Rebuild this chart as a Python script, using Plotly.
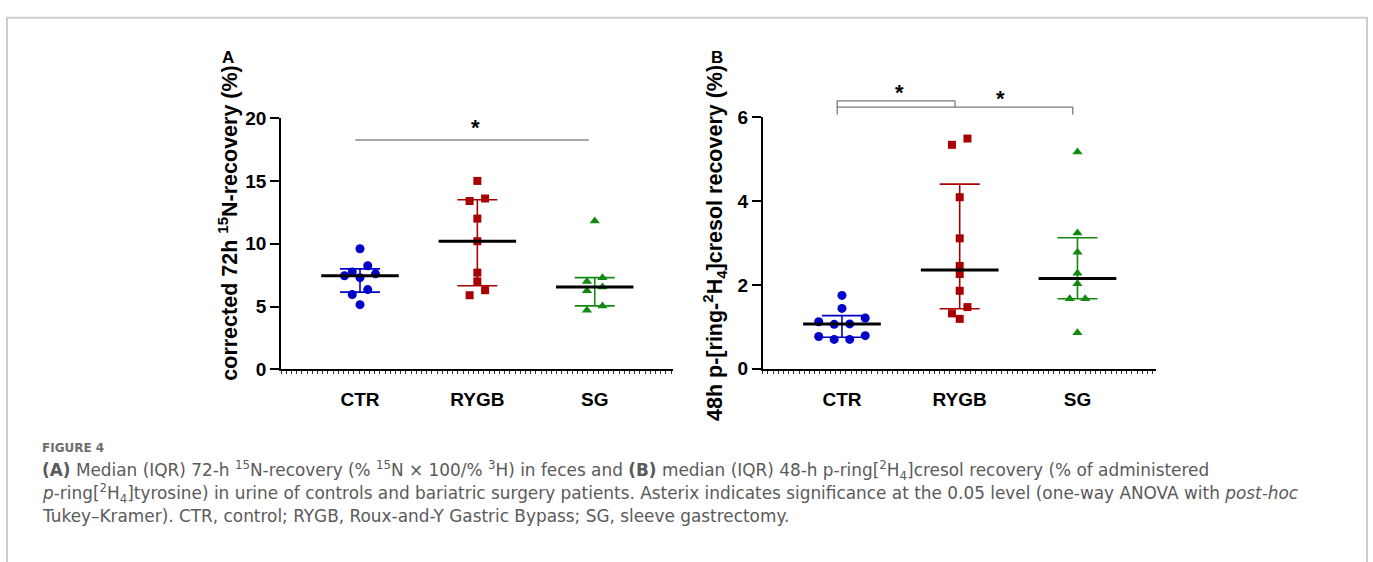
import numpy as np
import plotly.graph_objects as go

# ---------------- data ----------------
categories = ["CTR", "RYGB", "SG"]

a_ctr = [9.6, 8.25, 7.75, 7.6, 7.45, 7.3, 6.35, 5.95, 5.15]
a_rygb = [15.0, 13.6, 13.4, 12.0, 10.2, 7.7, 7.0, 6.3, 5.9]
a_sg = [11.8, 7.3, 7.0, 6.55, 6.25, 5.05, 4.7]

b_ctr = [1.75, 1.44, 1.21, 1.12, 1.07, 1.06, 0.79, 0.77, 0.70, 0.70]
b_rygb = [5.49, 5.34, 4.09, 3.11, 2.45, 2.26, 1.86, 1.47, 1.32, 1.19]
b_sg = [5.17, 3.24, 2.78, 2.28, 2.03, 1.67, 1.67, 0.86]

a_ticks = [0, 5, 10, 15, 20]
b_ticks = [0, 2, 4, 6]

a_title = "corrected 72h <sup>15</sup>N-recovery (%)"
b_title = "48h p-[ring-<sup>2</sup>H<sub>4</sub>]cresol recovery (%)"

# significance: (from group, to group, level)
a_sig = [(0, 2, 18.26)]
# (from group, to group, bracket top, leg bottom)
b_sig = [(0, 1, 6.39, 6.24), (0, 2, 6.24, 6.06)]

caption_head = "FIGURE 4"
caption_lines = [
    "<b>(A)</b> Median (IQR) 72-h <sup>15</sup>N-recovery (% <sup>15</sup>N × 100/% <sup>3</sup>H) in feces and "
    "<b>(B)</b> median (IQR) 48-h p-ring[<sup>2</sup>H<sub>4</sub>]cresol recovery (% of administered",
    "<i>p</i>-ring[<sup>2</sup>H<sub>4</sub>]tyrosine) in urine of controls and bariatric surgery patients. "
    "Asterix indicates significance at the 0.05 level (one-way ANOVA with <i>post-hoc</i>",
    "Tukey–Kramer). CTR, control; RYGB, Roux-and-Y Gastric Bypass; SG, sleeve gastrectomy.",
]

# ---------------- style / geometry ----------------
W, H = 1373, 562
COLORS = ["#0000c8", "#a80000", "#128a12"]
SYMBOLS = ["circle", "square", "triangle-up"]
SIZES = [9, 8, 9]
FONT = "Liberation Sans, Arial, sans-serif"
CAP_FONT = "DejaVu Sans, Open Sans, sans-serif"
XR = [-0.673, 2.667]

panels = [
    dict(name="A", data=[a_ctr, a_rygb, a_sg], xpx=(281, 673), ypx=(373.3, 112.3),
         ymax=20, ticks=a_ticks, title=a_title, title_x=228, title_y=222, label_xy=(228, 49)),
    dict(name="B", data=[b_ctr, b_rygb, b_sg], xpx=(762.7, 1156), ypx=(372.7, 111.3),
         ymax=6, ticks=b_ticks, title=b_title, title_x=715, title_y=242, label_xy=(717, 49)),
]


def px2fx(px):
    return px / W


def px2fy(py):
    return 1 - py / H


def swarm(vals, ppu, step, gap=6.6):
    n = len(vals)
    order = sorted(range(n), key=lambda i: -vals[i])
    groups = []
    for i in order:
        if groups and (vals[groups[-1][0]] - vals[i]) * ppu <= gap:
            groups[-1].append(i)
        else:
            groups.append([i])
    offs = [0.0] * n
    for g in groups:
        m = len(g)
        slots = [(k - (m - 1) / 2) * step for k in range(m)]
        slots = sorted(slots, key=lambda s: (-abs(s), -s))
        for idx, s in zip(g, slots):
            offs[idx] = s
    return offs


fig = go.Figure()
layout_axes = {}
shapes = []
annotations = []

for p_i, p in enumerate(panels):
    sfx = "" if p_i == 0 else str(p_i + 1)
    xa, ya = "x" + sfx, "y" + sfx
    ppc = (p["xpx"][1] - p["xpx"][0]) / (XR[1] - XR[0])
    ppu = (p["ypx"][0] - p["ypx"][1]) / p["ymax"]
    step = 15.5 / ppc
    for g, vals in enumerate(p["data"]):
        offs = swarm(vals, ppu, step)
        fig.add_trace(go.Scatter(
            x=[g + o for o in offs], y=vals, mode="markers", xaxis=xa, yaxis=ya,
            marker=dict(color=COLORS[g], symbol=SYMBOLS[g], size=SIZES[g], line=dict(width=0)),
            showlegend=False, hoverinfo="skip", cliponaxis=False))
        q1, med, q3 = np.percentile(vals, [25, 50, 75], method="weibull")
        fig.add_trace(go.Scatter(
            x=[g], y=[med], mode="markers", xaxis=xa, yaxis=ya,
            marker=dict(size=1, color="rgba(0,0,0,0)"),
            error_y=dict(type="data", symmetric=False, array=[q3 - med], arrayminus=[med - q1],
                         color=COLORS[g], thickness=1.6, width=20),
            showlegend=False, hoverinfo="skip"))
        fig.add_trace(go.Scatter(
            x=[g - 0.33, g + 0.33], y=[med, med], mode="lines", xaxis=xa, yaxis=ya,
            line=dict(color="black", width=3), showlegend=False, hoverinfo="skip"))

    layout_axes["xaxis" + sfx] = dict(
        domain=[px2fx(p["xpx"][0]), px2fx(p["xpx"][1])], range=XR, anchor=ya,
        tickvals=[0, 1, 2], ticktext=categories, ticks="", showgrid=False, zeroline=False,
        showline=True, linecolor="black", linewidth=2, ticklabelstandoff=12,
        tickfont=dict(family=FONT, size=19, color="black", weight="bold"),
        minor=dict(ticks="outside", ticklen=3, tickwidth=1, tickcolor="#333333",
                   dtick=5.2 / ppc, tick0=XR[0], showgrid=False),
        fixedrange=True)
    layout_axes["yaxis" + sfx] = dict(
        domain=[px2fy(p["ypx"][0]), px2fy(p["ypx"][1])], range=[0, p["ymax"]], anchor=xa,
        tickvals=p["ticks"], ticks="outside", ticklen=9, tickwidth=1.5, tickcolor="black",
        showline=True, linecolor="black", linewidth=1.5, showgrid=False, zeroline=False,
        tickfont=dict(family=FONT, size=19, color="black", weight="bold"), fixedrange=True)

    annotations.append(dict(
        text=p["title"], x=px2fx(p["title_x"]), y=px2fy(p["title_y"]), xref="paper", yref="paper",
        textangle=-90, showarrow=False, xanchor="center", yanchor="middle",
        font=dict(family=FONT, size=21.5, color="black", weight="bold")))
    annotations.append(dict(
        text=p["name"], x=px2fx(p["label_xy"][0]), y=px2fy(p["label_xy"][1]), xref="paper",
        yref="paper", showarrow=False, xanchor="center", yanchor="middle",
        font=dict(family=FONT, size=17, color="black", weight="bold")))

# panel A significance line
for (g0, g1, lev) in a_sig:
    shapes.append(dict(type="line", xref="x", yref="y", x0=g0 - 0.04, x1=g1 - 0.05, y0=lev, y1=lev,
                       line=dict(color="#8a8a8a", width=1.5)))
    annotations.append(dict(text="*", x=(g0 + g1) / 2 - 0.02, y=lev + 1.0, xref="x", yref="y",
                            showarrow=False, yanchor="middle",
                            font=dict(family=FONT, size=22, color="black", weight="bold")))

# panel B brackets (drawn above the axis range, in domain units of y2)
ymaxB = panels[1]["ymax"]
for (g0, g1, top, leg), star_x, star_y in zip(b_sig, [0.485, 1.345], [6.58, 6.44]):
    xs = [g0 - 0.04, g1 - 0.04]
    path = (f"M{xs[0]},{leg / ymaxB} L{xs[0]},{top / ymaxB} L{xs[1]},{top / ymaxB} "
            f"L{xs[1]},{leg / ymaxB}")
    shapes.append(dict(type="path", xref="x2", yref="y2 domain", path=path,
                       line=dict(color="#7a7a7a", width=1.3)))
    annotations.append(dict(text="*", x=star_x, y=star_y / ymaxB, xref="x2", yref="y2 domain",
                            showarrow=False, yanchor="middle",
                            font=dict(family=FONT, size=22, color="black", weight="bold")))

# caption
annotations.append(dict(text=caption_head, x=px2fx(40), y=px2fy(455), xref="paper", yref="paper",
                        showarrow=False, xanchor="left", yanchor="middle",
                        font=dict(family=CAP_FONT, size=12, color="#6e6e6e", weight="bold")))
for i, line in enumerate(caption_lines):
    annotations.append(dict(text=line, x=px2fx(40), y=px2fy(478 + 24 * i), xref="paper",
                            yref="paper", showarrow=False, xanchor="left", yanchor="middle",
                            font=dict(family=CAP_FONT, size=16.9, color="#5a5a5a")))

# figure border
shapes.append(dict(type="rect", xref="paper", yref="paper", x0=px2fx(7), x1=px2fx(1367),
                   y0=-0.2, y1=px2fy(8), line=dict(color="#cdcdcd", width=2), layer="below"))

fig.update_layout(
    width=W, height=H, margin=dict(l=0, r=0, t=0, b=0),
    paper_bgcolor="white", plot_bgcolor="white",
    shapes=shapes, annotations=annotations, showlegend=False, **layout_axes)

fig.write_html("out.html", config={"displayModeBar": False},
               post_script="document.body.style.margin='0px';document.body.style.overflow='hidden';")
